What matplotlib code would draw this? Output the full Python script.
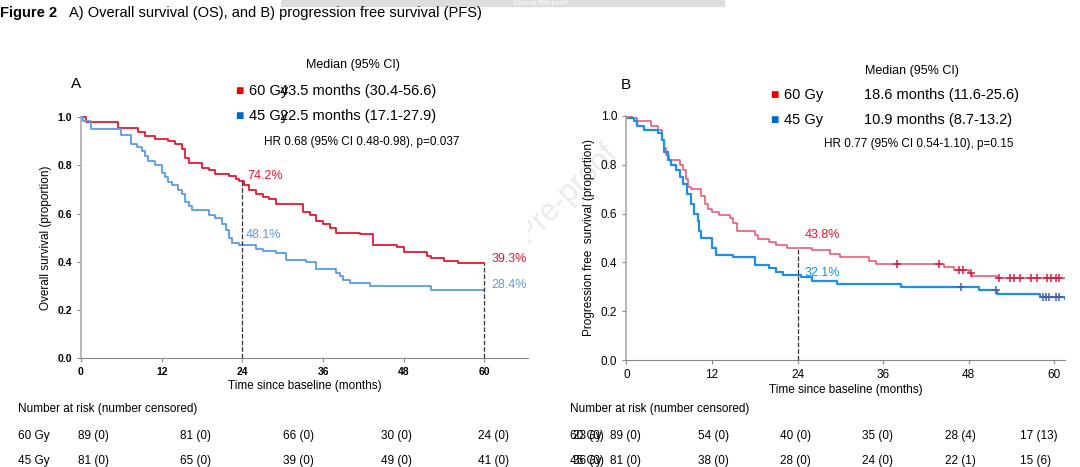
import matplotlib
matplotlib.use("Agg")
import matplotlib.pyplot as plt
import numpy as np

# ---- Data (step breakpoints: time, survival from that time onward) ----
os60_t = [0,0.8,5.5,8.5,9.5,11,13,14,15,15.5,16,18,19,20,22,23,23.5,24.3,25,26,27,28,29,33,34,35,36,37,38,41.5,43.5,47,48,51.5,52,54,56,60]
os60_s = [1.0,0.98,0.955,0.94,0.92,0.91,0.90,0.89,0.87,0.83,0.81,0.79,0.78,0.765,0.755,0.745,0.735,0.72,0.70,0.68,0.67,0.66,0.64,0.605,0.595,0.57,0.555,0.54,0.52,0.515,0.47,0.46,0.44,0.425,0.415,0.405,0.393,0.393]
os45_t = [0,0.3,1.5,6,7.5,8.3,9,9.5,10,11,12,12.5,13,13.5,14.5,15,15.5,16,16.5,19,20,21,21.5,22,22.5,23.5,26,27,29,30.5,33.5,35,38,38.5,39,40,43,52,60]
os45_s = [1.0,0.985,0.95,0.925,0.89,0.875,0.86,0.84,0.82,0.80,0.77,0.75,0.73,0.72,0.70,0.68,0.65,0.63,0.615,0.595,0.58,0.555,0.53,0.50,0.48,0.47,0.455,0.445,0.435,0.408,0.40,0.37,0.355,0.34,0.325,0.31,0.30,0.285,0.284]
pfs60_t = [0,0.8,1.5,3.5,4.5,5,5.3,5.6,6,7.5,8,8.3,8.7,9,10.5,11,11.5,12,13,14.5,15,15.5,18,18.5,20,21,22.5,26,28.5,30,34,35,44.5,46,48,48.5,52,61.5]
pfs60_s = [1.0,0.99,0.98,0.96,0.94,0.90,0.87,0.84,0.82,0.80,0.78,0.74,0.71,0.70,0.67,0.64,0.62,0.605,0.595,0.58,0.56,0.53,0.51,0.495,0.485,0.47,0.46,0.45,0.435,0.42,0.405,0.395,0.38,0.37,0.355,0.345,0.335,0.335]
pfs60_cens = [38,43.8,46.7,47.2,48.3,52.2,53.8,54.3,55.2,56.8,57.6,59,59.6,60.2,60.7]
pfs45_t = [0,1,1.5,2.5,4.5,5,5.3,5.8,6.3,7,7.5,8,8.5,9,9.5,10,10.2,10.5,12,12.5,15,18,20,21,22,24.5,26,29.5,38.5,49.5,52,58,61.5]
pfs45_s = [0.99,0.98,0.96,0.94,0.93,0.90,0.85,0.82,0.80,0.78,0.75,0.72,0.68,0.64,0.60,0.57,0.53,0.50,0.46,0.43,0.42,0.39,0.375,0.36,0.35,0.34,0.325,0.31,0.30,0.285,0.27,0.26,0.25]
pfs45_cens = [47,51.8,58.5,58.8,59.3,60.2,60.7]

xticks = [0,12,24,36,48,60]
yticks = [0.0,0.2,0.4,0.6,0.8,1.0]
risk_os_60 = ["89 (0)","81 (0)","66 (0)","30 (0)","24 (0)","23 (0)"]
risk_os_45 = ["81 (0)","65 (0)","39 (0)","49 (0)","41 (0)","36 (0)"]
risk_pfs_60 = ["89 (0)","54 (0)","40 (0)","35 (0)","28 (4)","17 (13)"]
risk_pfs_45 = ["81 (0)","38 (0)","28 (0)","24 (0)","22 (1)","15 (6)"]

def surv_at(t, ts, ss):
    i = np.searchsorted(ts, t, side='right') - 1
    return ss[i]

plt.rcParams['font.family'] = ['Liberation Sans', 'DejaVu Sans']
fig = plt.figure(figsize=(10.8, 4.67), dpi=100)

fig.text(0.0, 0.972, "Figure 2", fontsize=10.5, fontweight='bold', va='center')
fig.text(0.064, 0.972, "A) Overall survival (OS), and B) progression free survival (PFS)", fontsize=10.5, va='center')
fig.patches.append(plt.Rectangle((0.26, 0.988), 0.41, 0.012, transform=fig.transFigure, color='#dddddd', zorder=0))
fig.text(0.5, 0.993, "Journal Pre-proof", fontsize=5, color='white', ha='center', va='center')

def style(ax, bold, ls):
    for s in ['top', 'right']:
        ax.spines[s].set_visible(False)
    ax.spines['left'].set_color('#aaaaaa'); ax.spines['left'].set_linewidth(1.2)
    ax.spines['bottom'].set_color('#888888')
    ax.set_xticks(xticks); ax.set_yticks(yticks)
    ax.set_yticklabels([f"{v:.1f}" for v in yticks])
    ax.tick_params(labelsize=ls, length=3, color='#888888')
    if bold:
        for l in ax.get_xticklabels() + ax.get_yticklabels():
            l.set_fontweight('bold')
    ax.set_ylim(0, 1.0)
    ax.set_xlabel("Time since baseline (months)", fontsize=8.5, labelpad=2)

# Panel A
axA = fig.add_axes([0.075, 0.233, 0.414, 0.516])
red_a, blue_a = '#e8152e', '#5b9be6'
axA.step(os60_t, os60_s, where='post', color=red_a, lw=1.3, clip_on=False)
axA.step(os45_t, os45_s, where='post', color=blue_a, lw=1.3, clip_on=False)
axA.set_xlim(0, 66.5)
style(axA, True, 7.5)
axA.set_ylabel("Overall survival (proportion)", fontsize=8.5)
for t in [24, 60]:
    axA.plot([t, t], [0, surv_at(t, os60_t, os60_s)], ls='--', color='#333333', lw=0.9)
axA.text(24.7, 0.745, "74.2%", color=red_a, fontsize=9)
axA.text(24.5, 0.50, "48.1%", color=blue_a, fontsize=9)
axA.text(61, 0.40, "39.3%", color=red_a, fontsize=9)
axA.text(61, 0.29, "28.4%", color=blue_a, fontsize=9)
axA.text(-1.5, 1.12, "A", fontsize=11)

# Panel B
axB = fig.add_axes([0.58, 0.229, 0.406, 0.523])
red_b, blue_b = '#e8506c', '#1f8ee6'
axB.step(pfs60_t, pfs60_s, where='post', color=red_b, lw=1.1)
axB.step(pfs45_t, pfs45_s, where='post', color=blue_b, lw=1.6)
axB.plot(pfs60_cens, [surv_at(t, pfs60_t, pfs60_s) for t in pfs60_cens], ls='none', marker='+', ms=6, mew=1.1, color='#d81b40')
axB.plot(pfs45_cens, [surv_at(t, pfs45_t, pfs45_s) for t in pfs45_cens], ls='none', marker='+', ms=6, mew=1.1, color='#4a5ea8')
axB.set_xlim(0, 61.5)
style(axB, False, 8.5)
axB.set_ylabel("Progression free  survival (proportion)", fontsize=8.5)
axB.plot([24, 24], [0, surv_at(24, pfs60_t, pfs60_s)], ls='--', color='#333333', lw=0.9)
axB.text(25, 0.50, "43.8%", color='#e8152e', fontsize=9)
axB.text(25, 0.345, "32.1%", color=blue_b, fontsize=9)
axB.text(-0.8, 1.11, "B", fontsize=11)

def legend(x0, xm, xt, y1, y2, ym, meds, hr, hrx, hry):
    fig.text(xm, ym, "Median (95% CI)", fontsize=9, va='center')
    fig.text(x0, y1, "■", color='#ee0000', fontsize=10, va='center')
    fig.text(x0, y2, "■", color='#0066cc', fontsize=10, va='center')
    fig.text(x0 + 0.013, y1, "60 Gy", fontsize=10.5, va='center')
    fig.text(x0 + 0.013, y2, "45 Gy", fontsize=10.5, va='center')
    fig.text(xt, y1, meds[0], fontsize=10.5, va='center')
    fig.text(xt, y2, meds[1], fontsize=10.5, va='center')
    fig.text(hrx, hry, hr, fontsize=8.5, va='center')

legend(0.218, 0.283, 0.259, 0.805, 0.751, 0.86,
       ["43.5 months (30.4-56.6)", "22.5 months (17.1-27.9)"],
       "HR 0.68 (95% CI 0.48-0.98), p=0.037", 0.244, 0.697)
legend(0.713, 0.801, 0.8, 0.797, 0.742, 0.848,
       ["18.6 months (11.6-25.6)", "10.9 months (8.7-13.2)"],
       "HR 0.77 (95% CI 0.54-1.10), p=0.15", 0.763, 0.692)

def risk(x0, xs, r60, r45):
    fig.text(x0, 0.124, "Number at risk (number censored)", fontsize=8.5, va='center')
    fig.text(x0, 0.066, "60 Gy", fontsize=8.5, va='center')
    fig.text(x0, 0.013, "45 Gy", fontsize=8.5, va='center')
    for x, a, b in zip(xs, r60, r45):
        fig.text(x, 0.066, a, fontsize=8.5, va='center')
        fig.text(x, 0.013, b, fontsize=8.5, va='center')

risk(0.017, [0.072, 0.167, 0.262, 0.353, 0.443, 0.531], risk_os_60, risk_os_45)
risk(0.528, [0.565, 0.646, 0.722, 0.798, 0.875, 0.944], risk_pfs_60, risk_pfs_45)

fig.text(0.49, 0.5, "Journal Pre-proof", fontsize=22, color='#dcdcdc', alpha=0.6,
         rotation=45, ha='center', va='center', zorder=-1)

fig.savefig("out.png", dpi=100)
